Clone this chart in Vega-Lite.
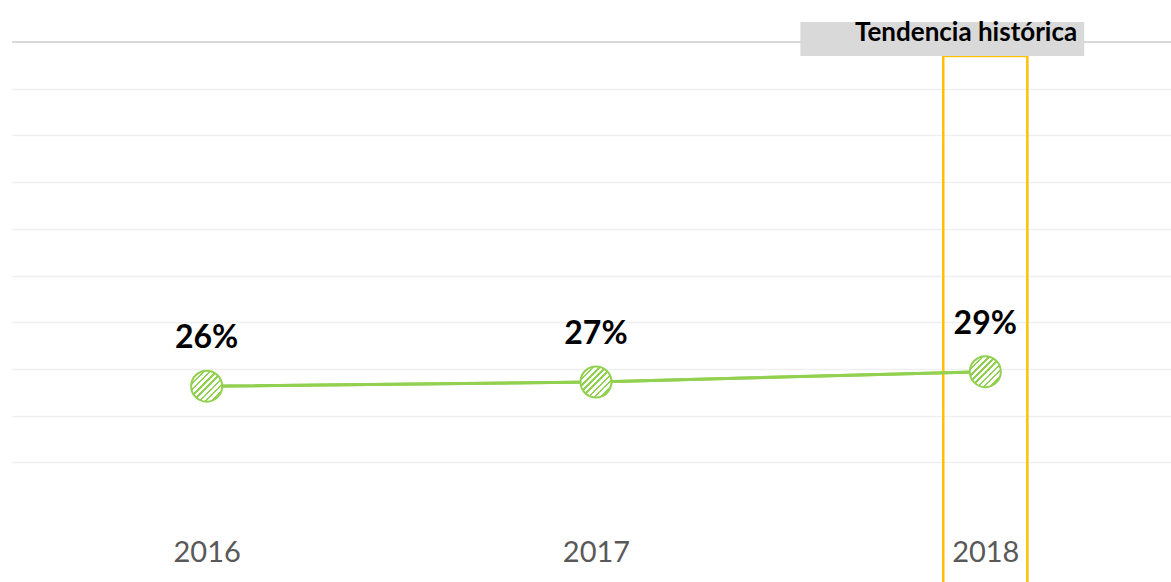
{
  "$schema": "https://vega.github.io/schema/vega-lite/v6.json",
  "width": 1159,
  "height": 467,
  "autosize": {"type": "none"},
  "padding": {"left": 12, "top": 42, "right": 0, "bottom": 73},
  "background": "white",
  "config": {"view": {"stroke": null}, "font": "Lato"},
  "datasets": {
    "series": [
      {"year": 2016, "share": 0.263},
      {"year": 2017, "share": 0.272},
      {"year": 2018, "share": 0.294}
    ],
    "highlight": [{"x0": 2017.892, "x1": 2018.108, "y0": 0.97, "y1": -0.2}],
    "tag": [{"x0": 2017.525, "x1": 2018.254, "y0": 0.97, "y1": 1.043, "tx": 2018.236, "ty": 1.002, "label": "Tendencia histórica"}],
    "topline": [{"v": 1.0}]
  },
  "layer": [
    {
      "data": {"name": "series"},
      "mark": {"type": "line", "color": "#92d050", "strokeWidth": 3},
      "encoding": {
        "x": {
          "field": "year", "type": "quantitative",
          "scale": {"domain": [2015.5, 2018.477], "nice": false, "zero": false},
          "axis": {
            "values": [2016, 2017, 2018], "format": "d", "title": null,
            "grid": false, "domain": false, "ticks": false, "tickSize": 0,
            "labelFontSize": 29, "labelColor": "#595959", "labelFont": "Lato",
            "labelBaseline": "alphabetic", "labelPadding": 52
          }
        },
        "y": {
          "field": "share", "type": "quantitative",
          "scale": {"domain": [0, 1], "nice": false},
          "axis": {
            "values": [0.1, 0.2, 0.3, 0.4, 0.5, 0.6, 0.7, 0.8, 0.9],
            "title": null, "labels": false, "ticks": false, "domain": false,
            "grid": true, "gridColor": "#efefef", "gridWidth": 1.5
          }
        }
      }
    },
    {
      "data": {"name": "topline"},
      "mark": {"type": "rule", "color": "#d9d9d9", "strokeWidth": 2},
      "encoding": {"y": {"field": "v", "type": "quantitative"}}
    },
    {
      "data": {"name": "highlight"},
      "mark": {"type": "rect", "fill": null, "fillOpacity": 0, "stroke": "#ffc000", "strokeWidth": 2.5},
      "encoding": {
        "x": {"field": "x0", "type": "quantitative"},
        "x2": {"field": "x1"},
        "y": {"field": "y0", "type": "quantitative"},
        "y2": {"field": "y1"}
      }
    },
    {
      "data": {"name": "series"},
      "mark": {"type": "line", "color": "#92d050", "strokeWidth": 3},
      "encoding": {
        "x": {"field": "year", "type": "quantitative"},
        "y": {"field": "share", "type": "quantitative"}
      }
    },
    {
      "data": {"name": "series"},
      "mark": {
        "type": "point", "shape": "circle", "filled": true, "size": 960, "opacity": 1,
        "stroke": "#92d050", "strokeWidth": 2, "strokeOpacity": 1,
        "fill": {
          "gradient": "linear", "x1": 0, "y1": 0, "x2": 1, "y2": 1,
          "stops": [
            {"offset": 0, "color": "#92d050"}, {"offset": 0.04, "color": "#92d050"}, {"offset": 0.04, "color": "#ffffff"}, {"offset": 0.1, "color": "#ffffff"},
            {"offset": 0.1, "color": "#92d050"}, {"offset": 0.14, "color": "#92d050"}, {"offset": 0.14, "color": "#ffffff"}, {"offset": 0.2, "color": "#ffffff"},
            {"offset": 0.2, "color": "#92d050"}, {"offset": 0.24, "color": "#92d050"}, {"offset": 0.24, "color": "#ffffff"}, {"offset": 0.3, "color": "#ffffff"},
            {"offset": 0.3, "color": "#92d050"}, {"offset": 0.34, "color": "#92d050"}, {"offset": 0.34, "color": "#ffffff"}, {"offset": 0.4, "color": "#ffffff"},
            {"offset": 0.4, "color": "#92d050"}, {"offset": 0.44, "color": "#92d050"}, {"offset": 0.44, "color": "#ffffff"}, {"offset": 0.5, "color": "#ffffff"},
            {"offset": 0.5, "color": "#92d050"}, {"offset": 0.54, "color": "#92d050"}, {"offset": 0.54, "color": "#ffffff"}, {"offset": 0.6, "color": "#ffffff"},
            {"offset": 0.6, "color": "#92d050"}, {"offset": 0.64, "color": "#92d050"}, {"offset": 0.64, "color": "#ffffff"}, {"offset": 0.7, "color": "#ffffff"},
            {"offset": 0.7, "color": "#92d050"}, {"offset": 0.74, "color": "#92d050"}, {"offset": 0.74, "color": "#ffffff"}, {"offset": 0.8, "color": "#ffffff"},
            {"offset": 0.8, "color": "#92d050"}, {"offset": 0.84, "color": "#92d050"}, {"offset": 0.84, "color": "#ffffff"}, {"offset": 0.9, "color": "#ffffff"},
            {"offset": 0.9, "color": "#92d050"}, {"offset": 0.94, "color": "#92d050"}, {"offset": 0.94, "color": "#ffffff"}, {"offset": 1, "color": "#ffffff"}
          ]
        }
      },
      "encoding": {
        "x": {"field": "year", "type": "quantitative"},
        "y": {"field": "share", "type": "quantitative"}
      }
    },
    {
      "data": {"name": "series"},
      "mark": {"type": "text", "font": "Lato", "fontWeight": "bold", "fontSize": 32, "color": "#000000", "baseline": "alphabetic", "align": "center", "dy": -38},
      "encoding": {
        "x": {"field": "year", "type": "quantitative"},
        "y": {"field": "share", "type": "quantitative"},
        "text": {"field": "share", "type": "quantitative", "format": ".0%"}
      }
    },
    {
      "data": {"name": "tag"},
      "mark": {"type": "rect", "fill": "#d9d9d9"},
      "encoding": {
        "x": {"field": "x0", "type": "quantitative"},
        "x2": {"field": "x1"},
        "y": {"field": "y0", "type": "quantitative"},
        "y2": {"field": "y1"}
      }
    },
    {
      "data": {"name": "tag"},
      "mark": {"type": "text", "font": "Lato", "fontWeight": "bold", "fontSize": 26, "color": "#000000", "baseline": "alphabetic", "align": "right"},
      "encoding": {
        "x": {"field": "tx", "type": "quantitative"},
        "y": {"field": "ty", "type": "quantitative"},
        "text": {"field": "label", "type": "nominal"}
      }
    }
  ]
}
